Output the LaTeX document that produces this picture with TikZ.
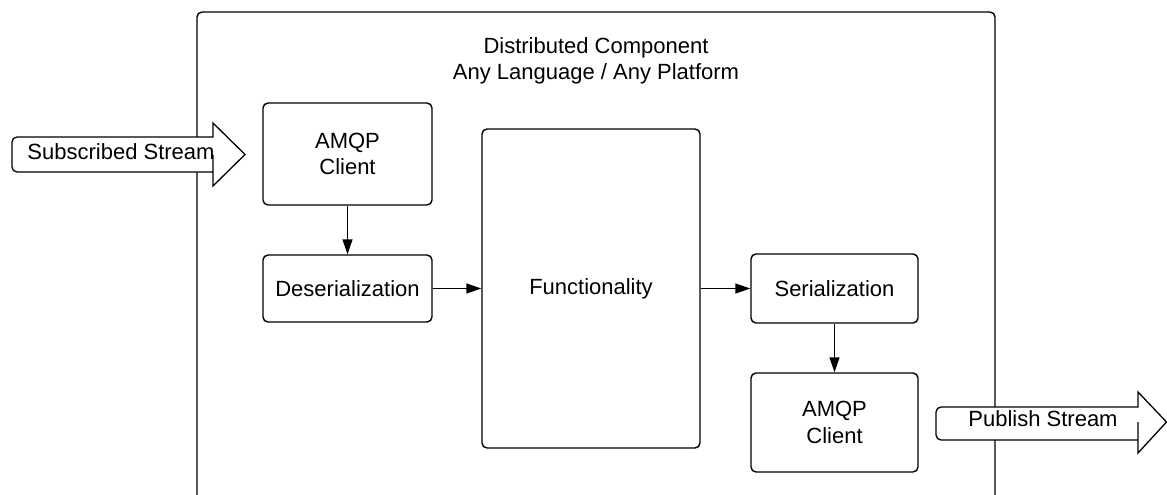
\documentclass[tikz,border=0pt]{standalone}
\usepackage{fontspec}
\setmainfont{Liberation Sans}
\usetikzlibrary{arrows.meta}
\begin{document}
\begin{tikzpicture}[x=1pt,y=-1pt,
  txt/.style={font=\fontsize{22}{26.5}\selectfont, align=center},
  box/.style={txt, draw, line width=1.4pt, rounded corners=5pt, inner sep=0pt},
  flow/.style={draw, line width=1.4pt, -{Triangle[length=15pt,width=10pt]}},
  stream/.style={draw, line width=1.3pt, fill=white, line join=miter}]
\useasboundingbox (0,0) rectangle (1167,495);

% component frame, open at the bottom edge
\draw[line width=1.4pt, rounded corners=5pt] (197,500) -- (197,12) -- (995,12) -- (995,500);
\node[txt] (title) at (596,61) {Distributed Component\\Any Language / Any Platform};

% processing blocks
\node[box, minimum width=169pt, minimum height=102pt] (amqpin)  at (347.5,154)   {AMQP\\Client};
\node[box, minimum width=169pt, minimum height=67pt]  (deser)   at (347.5,288.5) {Deserialization};
\node[box, minimum width=218pt, minimum height=319pt] (func)    at (591,288.5)   {Functionality};
\node[box, minimum width=167pt, minimum height=69pt]  (ser)     at (834.5,288.5) {Serialization};
\node[box, minimum width=167pt, minimum height=99pt]  (amqpout) at (834.5,422.5) {AMQP\\Client};

% data flow
\draw[flow] (amqpin) -- (deser);
\draw[flow] (deser) -- (func);
\draw[flow] (func) -- (ser);
\draw[flow] (ser) -- (amqpout);

% incoming stream arrow
\draw[stream] (213,154.5) -- (213,172) -- (17,172) [rounded corners=5pt] -- (12,172) -- (12,137) [sharp corners] -- (17,137) -- (213,137) -- (213,123) -- (245,154.5) -- (213,186) -- (213,172);
\node[txt] (substream) at (121,152) {Subscribed Stream};

% outgoing stream arrow
\draw[stream] (1138,422) -- (1138,440) -- (941,440) [rounded corners=5pt] -- (936,440) -- (936,407) [sharp corners] -- (941,407) -- (1138,407) -- (1138,392) -- (1166.5,422) -- (1138,453) -- (1138,440);
\node[txt] (pubstream) at (1043,419) {Publish Stream};
\end{tikzpicture}
\end{document}
